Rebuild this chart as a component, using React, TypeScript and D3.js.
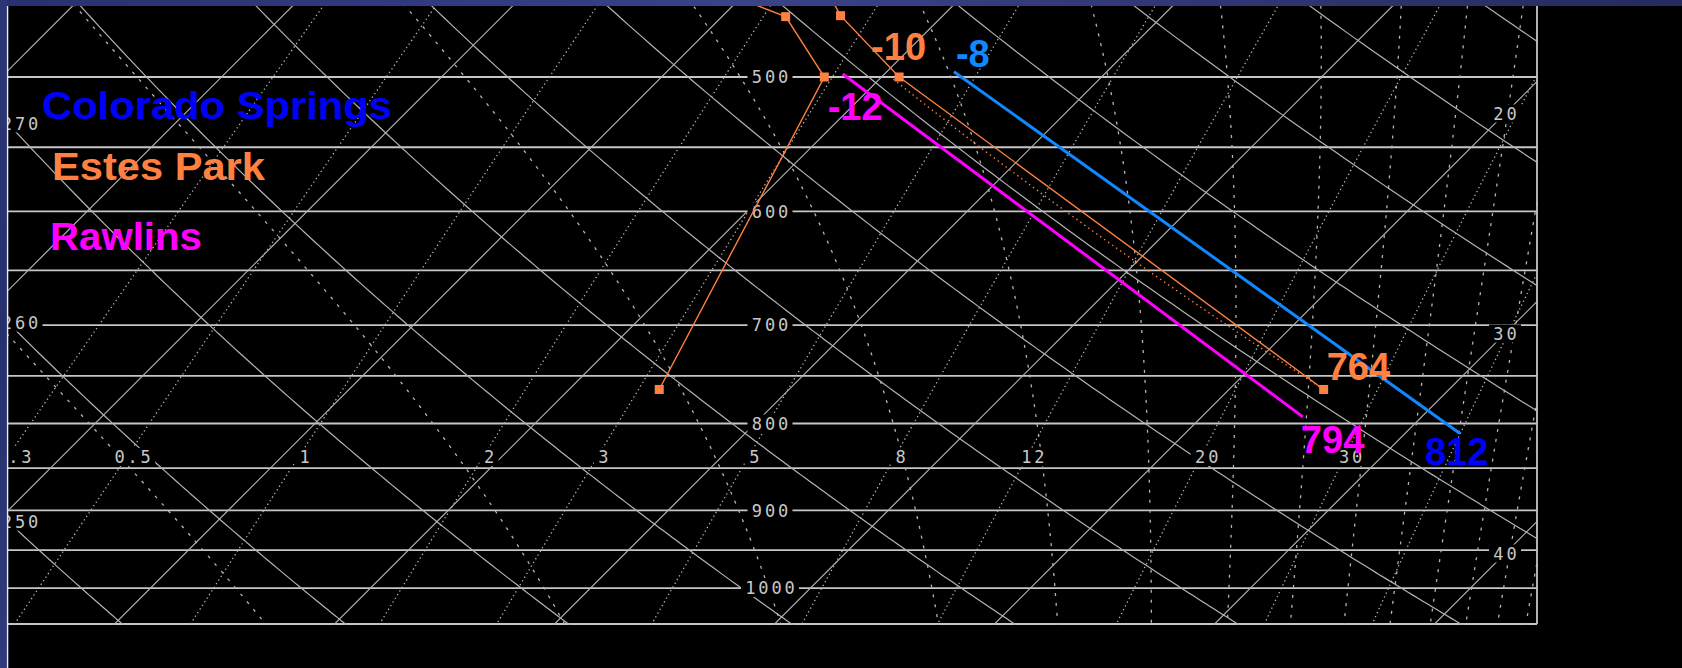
import React from "react";
import * as d3 from "d3";

// ---------- chart values ----------
const pressureLevels = [500, 550, 600, 650, 700, 750, 800, 850, 900, 950, 1000, 1050];
const pressureLabels = [500, 600, 700, 800, 900, 1000];
const isotherms = [-60, -50, -40, -30, -20, -10, 0, 10, 20, 30, 40, 50];
const isothermLabels = [20, 30, 40];
const dryAdiabats = [230, 240, 250, 260, 270, 280, 290, 300, 310, 320, 330, 340, 350, 360, 370, 380];
const dryAdiabatLabels = [250, 260, 270];
const moistAdiabats = [240, 260, 280, 300, 320, 340, 360, 380, 400, 420, 440, 460, 480, 500, 520, 540, 560];
const mixingRatios = [0.3, 0.5, 1, 2, 3, 5, 8, 12, 20, 30, 40];
const mixingRatioLabels = ["0.3", "0.5", "1", "2", "3", "5", "8", "12", "20", "30"];

const stationNames = ["Colorado Springs", "Estes Park", "Rawlins"];
const stationSurfaceP = ["812", "764", "794"];
const stationT500 = ["-8", "-10", "-12"];

// straight annotation lines: surface (p, T) -> ~500 mb (p, T)
const springsLine = [
  { p: 810.9, t: 32.5 },
  { p: 496.4, t: -6.95 },
];
const rawlinsLine = [
  { p: 792.8, t: 24.6 },
  { p: 498.0, t: -11.9 },
];
// Estes Park sounding
const estesTemp = [
  { p: 763.9, t: 24.3 },
  { p: 500, t: -9.2 },
  { p: 460.1, t: -14.65 },
  { p: 450, t: -15.8 },
];
const estesDew = [
  { p: 763.9, t: -5.9 },
  { p: 500, t: -12.6 },
  { p: 460.7, t: -17.1 },
  { p: 450, t: -19.9 },
];

// ---------- layout ----------
const W = 1682;
const H = 668;
const PL = 8;
const PR = 1537;
const PT = 6;
const PB = 624;
const KAPPA = 0.2854;

const ORANGE = "#ff8040";
const MAGENTA = "#ff00ff";
const BLUE = "#0000ff";
const LBLUE = "#1088ff";
const GRID = "#b4b4b4";
const ISOBAR = "#c6c6c6";
const LABEL = "#c8c8c8";

function es(t: number) {
  return 6.112 * Math.exp((17.67 * t) / (t + 243.5));
}
function thetaE(t: number, p: number) {
  const e = es(t);
  const r = (622 * e) / (p - e);
  const tk = t + 273.15;
  return (
    tk *
    Math.pow(1000 / p, 0.2854 * (1 - 0.00028 * r)) *
    Math.exp((3.376 / tk - 0.00254) * r * (1 + 0.00081 * r))
  );
}
function tFromThetaE(te: number, p: number) {
  let lo = -110;
  let hi = 55;
  for (let i = 0; i < 60; i++) {
    const mid = (lo + hi) / 2;
    if (thetaE(mid, p) > te) hi = mid;
    else lo = mid;
  }
  return (lo + hi) / 2;
}
function tdFromW(w: number, p: number) {
  const e = (w * p) / (622 + w);
  const L = Math.log(e / 6.112);
  return (243.5 * L) / (17.67 - L);
}
function tFromTheta(th: number, p: number) {
  return th * Math.pow(p / 1000, KAPPA) - 273.15;
}

function MonoLabel({ cx, cy, text }: { cx: number; cy: number; text: string }) {
  const adv = 13;
  const w = text.length * adv + 6;
  const h = 18;
  return (
    <g>
      <rect x={cx - w / 2} y={cy - h / 2} width={w} height={h} fill="#000" />
      <text
        x={cx + 1.4}
        y={cy + 6.2}
        textAnchor="middle"
        fontFamily="'DejaVu Sans Mono', monospace"
        fontSize={17}
        letterSpacing={2.8}
        fill={LABEL}
      >
        {text}
      </text>
    </g>
  );
}

export default function App() {
  const y = d3.scaleLog().domain([500, 1050]).range([77, 624]);
  const xt = d3.scaleLinear().domain([0, 10]).range([755, 975]);
  const y800 = y(800);
  const X = (t: number, p: number) => xt(t) + (y800 - y(p));
  const pSamples = d3.range(430, 1065, 4);
  const line = d3.line<[number, number]>();
  const pTopEdge = y.invert(PT - 10);
  const pBotEdge = y.invert(PB + 10);

  const isoPaths = isotherms.map((t) =>
    line([
      [X(t, pBotEdge), y(pBotEdge)],
      [X(t, pTopEdge), y(pTopEdge)],
    ])
  );
  const dryPaths = dryAdiabats.map((th) =>
    line(pSamples.map((p) => [X(tFromTheta(th, p), p), y(p)] as [number, number]))
  );
  const moistPaths = moistAdiabats.map((te) =>
    line(pSamples.map((p) => [X(tFromThetaE(te, p), p), y(p)] as [number, number]))
  );
  const mixPaths = mixingRatios.map((w) =>
    line(pSamples.map((p) => [X(tdFromW(w, p), p), y(p)] as [number, number]))
  );

  // labels
  const pLab = y.invert(457);
  const mixLabels = mixingRatioLabels.map((s) => {
    const w = parseFloat(s);
    return { text: s, cx: X(tdFromW(w, pLab), pLab) + 6, cy: 457 };
  });
  const tLabels = isothermLabels.map((t) => ({
    text: String(t),
    cx: 1505,
    cy: y800 - (1505 - xt(t)),
  }));
  const thLabels = dryAdiabatLabels.map((th) => {
    // pressure where the adiabat meets the left edge (x grows with p)
    let lo = 300;
    let hi = 1100;
    for (let i = 0; i < 60; i++) {
      const mid = (lo + hi) / 2;
      if (X(tFromTheta(th, mid), mid) > PL) hi = mid;
      else lo = mid;
    }
    const pc = (lo + hi) / 2;
    return { text: String(th), cx: 20, cy: y(pc) };
  });

  // parcel (dotted) path from Estes surface
  const s0 = estesTemp[0];
  const thParcel = (s0.t + 273.15) * Math.pow(1000 / s0.p, KAPPA);
  const parcelPath = line(
    d3
      .range(s0.p, 499.9, -4)
      .concat([500])
      .map((p) => [X(tFromTheta(thParcel, p), p), y(p)] as [number, number])
  );

  const pts = (arr: { p: number; t: number }[]) =>
    arr.map((d) => [X(d.t, d.p), y(d.p)] as [number, number]);
  const springsPts = pts(springsLine);
  const rawlinsPts = pts(rawlinsLine);
  const tempPts = pts(estesTemp);
  const dewPts = pts(estesDew);

  const bigFont = "'Liberation Sans', Arial, Helvetica, sans-serif";

  return (
    <svg
      width={W}
      height={H}
      viewBox={`0 0 ${W} ${H}`}
      style={{ position: "absolute", left: 0, top: 0, display: "block" }}
    >
      <defs>
        <clipPath id="plot">
          <rect x={PL} y={PT} width={PR - PL} height={PB - PT + 1} />
        </clipPath>
        <linearGradient id="topband" x1="0" x2="1" y1="0" y2="0">
          <stop offset="0" stopColor="#283070" />
          <stop offset="0.45" stopColor="#3a4288" />
          <stop offset="1" stopColor="#262a5e" />
        </linearGradient>
        <linearGradient id="leftband" x1="0" x2="0" y1="0" y2="1">
          <stop offset="0" stopColor="#2c3676" />
          <stop offset="0.5" stopColor="#26306c" />
          <stop offset="1" stopColor="#303a7c" />
        </linearGradient>
      </defs>
      <rect x={0} y={0} width={W} height={H} fill="#000" />

      <g clipPath="url(#plot)">
        {pressureLevels.map((p) => (
          <line key={p} x1={PL} x2={PR} y1={y(p)} y2={y(p)} stroke={ISOBAR} strokeWidth={1.8} />
        ))}
        {isoPaths.map((d, i) => (
          <path key={"it" + i} d={d || ""} fill="none" stroke={GRID} strokeWidth={1.2} />
        ))}
        {dryPaths.map((d, i) => (
          <path key={"da" + i} d={d || ""} fill="none" stroke={GRID} strokeWidth={1.2} />
        ))}
        {moistPaths.map((d, i) => (
          <path key={"ma" + i} d={d || ""} fill="none" stroke={GRID} strokeWidth={1.3} strokeDasharray="3,7" />
        ))}
        {mixPaths.map((d, i) => (
          <path key={"mr" + i} d={d || ""} fill="none" stroke={GRID} strokeWidth={1.3} strokeDasharray="1.3,3" />
        ))}

        {pressureLabels.map((p) => (
          <MonoLabel key={"pl" + p} cx={770} cy={y(p)} text={String(p)} />
        ))}
        {mixLabels.map((l) => (
          <MonoLabel key={"ml" + l.text} cx={l.cx} cy={l.cy} text={l.text} />
        ))}
        {tLabels.map((l) => (
          <MonoLabel key={"tl" + l.text} cx={l.cx} cy={l.cy} text={l.text} />
        ))}
        {thLabels.map((l) => (
          <MonoLabel key={"th" + l.text} cx={l.cx} cy={l.cy} text={l.text} />
        ))}

        {/* Estes Park sounding */}
        <path d={parcelPath || ""} fill="none" stroke={ORANGE} strokeWidth={1.4} strokeDasharray="1.4,3.5" />
        <path d={line(tempPts) || ""} fill="none" stroke={ORANGE} strokeWidth={1.4} />
        <path d={line(dewPts) || ""} fill="none" stroke={ORANGE} strokeWidth={1.4} />
        {tempPts
          .slice(0, 3)
          .concat(dewPts.slice(0, 3))
          .map((pt, i) => (
            <rect key={"mk" + i} x={pt[0] - 4.5} y={pt[1] - 4.5} width={9} height={9} fill={ORANGE} />
          ))}

        {/* annotation lines */}
        <path d={line(rawlinsPts) || ""} fill="none" stroke={MAGENTA} strokeWidth={3} />
        <path d={line(springsPts) || ""} fill="none" stroke={LBLUE} strokeWidth={3} />
      </g>

      <line x1={PR} x2={PR} y1={PT} y2={PB} stroke={ISOBAR} strokeWidth={1.8} />

      {/* annotation numbers */}
      <g fontFamily={bigFont} fontWeight="bold" fontSize={38}>
        <text x={tempPts[1][0] - 28} y={tempPts[1][1] - 17} fill={ORANGE}>
          {stationT500[1]}
        </text>
        <text x={springsPts[1][0] + 2} y={springsPts[1][1] - 5} fill={LBLUE}>
          {stationT500[0]}
        </text>
        <text x={rawlinsPts[1][0] - 15} y={rawlinsPts[1][1] + 46} fill={MAGENTA}>
          {stationT500[2]}
        </text>
        <text x={tempPts[0][0] + 3} y={tempPts[0][1] - 9} fill={ORANGE}>
          {stationSurfaceP[1]}
        </text>
        <text x={rawlinsPts[0][0] - 2} y={rawlinsPts[0][1] + 36} fill={MAGENTA}>
          {stationSurfaceP[2]}
        </text>
        <text x={springsPts[0][0] - 35} y={springsPts[0][1] + 32} fill={BLUE}>
          {stationSurfaceP[0]}
        </text>

        {/* legend */}
        <text x={42} y={119} fill={BLUE} textLength={350} lengthAdjust="spacingAndGlyphs">
          {stationNames[0]}
        </text>
        <text x={52} y={180} fill={ORANGE} textLength={213} lengthAdjust="spacingAndGlyphs">
          {stationNames[1]}
        </text>
        <text x={50} y={250} fill={MAGENTA} textLength={152} lengthAdjust="spacingAndGlyphs">
          {stationNames[2]}
        </text>
      </g>

      {/* slide frame */}
      <rect x={0} y={0} width={W} height={PT} fill="url(#topband)" />
      <rect x={0} y={0} width={7} height={H} fill="url(#leftband)" />
      <line x1={7.6} x2={7.6} y1={PT} y2={H} stroke="#e8ecff" strokeWidth={1.4} />
    </svg>
  );
}
